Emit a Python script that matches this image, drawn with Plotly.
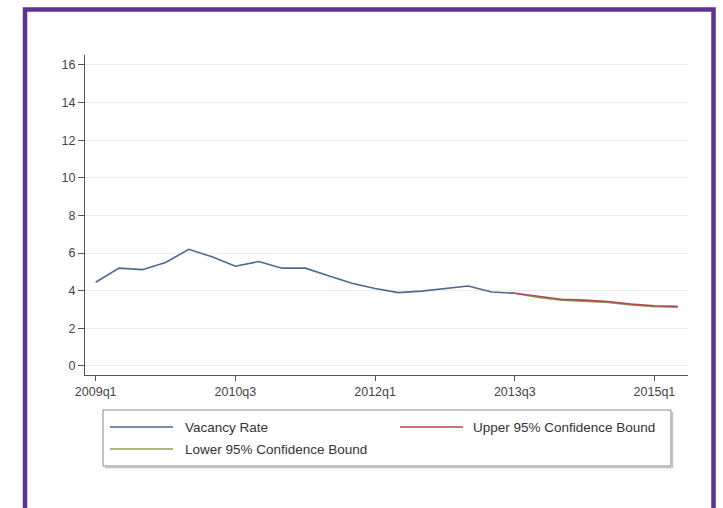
import plotly.graph_objects as go

# ---- data ----
quarters = ["2009q1", "2009q2", "2009q3", "2009q4",
            "2010q1", "2010q2", "2010q3", "2010q4",
            "2011q1", "2011q2", "2011q3", "2011q4",
            "2012q1", "2012q2", "2012q3", "2012q4",
            "2013q1", "2013q2", "2013q3", "2013q4",
            "2014q1", "2014q2", "2014q3", "2014q4",
            "2015q1", "2015q2"]
vacancy_rate = [4.45, 5.2, 5.12, 5.5, 6.2, 5.8, 5.3, 5.55, 5.2, 5.2,
                4.8, 4.4, 4.12, 3.9, 3.98, 4.1, 4.25, 3.93, 3.87]
forecast_quarters = quarters[18:26]
upper_bound = [3.87, 3.69, 3.55, 3.50, 3.43, 3.29, 3.20, 3.17]
lower_bound = [3.87, 3.64, 3.50, 3.45, 3.38, 3.24, 3.15, 3.12]
tick_quarters = ["2009q1", "2010q3", "2012q1", "2013q3", "2015q1"]
y_ticks = [0, 2, 4, 6, 8, 10, 12, 14, 16]
legend_labels = ["Vacancy Rate", "Upper 95% Confidence Bound", "Lower 95% Confidence Bound"]

C_BLUE = "#4a6a90"
C_UPPER = "#b24852"
C_LOWER = "#8f9e5a"
FONT = "Liberation Sans, Arial, sans-serif"

W, H = 723, 508
L, R, T, B = 85, 688, 55, 375


def px(x):
    return (x - L) / (R - L)


def py(y):
    return (B - y) / (B - T)


fig = go.Figure()
fig.add_trace(go.Scatter(x=quarters[:len(vacancy_rate)], y=vacancy_rate, mode="lines",
                         line=dict(color=C_BLUE, width=1.6), name=legend_labels[0]))
fig.add_trace(go.Scatter(x=forecast_quarters, y=lower_bound, mode="lines",
                         line=dict(color=C_LOWER, width=1.6), name=legend_labels[2]))
fig.add_trace(go.Scatter(x=forecast_quarters, y=upper_bound, mode="lines",
                         line=dict(color=C_UPPER, width=1.6), name=legend_labels[1]))

shapes = []
# purple frame (open at bottom)
shapes.append(dict(type="path", xref="paper", yref="paper",
                   path=f"M {px(25)},{py(530)} L {px(25)},{py(9.5)} L {px(713.5)},{py(9.5)} L {px(713.5)},{py(530)}",
                   line=dict(color="#5f3190", width=4.5)))
# legend box shadow + box
shapes.append(dict(type="line", xref="paper", yref="paper",
                   x0=px(105), x1=px(672.5), y0=py(467.5), y1=py(467.5),
                   line=dict(color="#c4c4c4", width=1.5)))
shapes.append(dict(type="line", xref="paper", yref="paper",
                   x0=px(672.5), x1=px(672.5), y0=py(412), y1=py(467.5),
                   line=dict(color="#c4c4c4", width=1.5)))
shapes.append(dict(type="rect", xref="paper", yref="paper",
                   x0=px(103), x1=px(671), y0=py(466), y1=py(410),
                   line=dict(color="#8a8a8a", width=1), fillcolor="rgba(0,0,0,0)"))
# legend samples
samples = [(110, 173, 427, C_BLUE), (400, 463, 427, C_UPPER), (110, 173, 449, C_LOWER)]
for x0, x1, yy, c in samples:
    shapes.append(dict(type="line", xref="paper", yref="paper",
                       x0=px(x0), x1=px(x1), y0=py(yy), y1=py(yy),
                       line=dict(color=c, width=1.6)))

annotations = []
label_pos = [(183, 427), (471, 427), (183, 449)]
for (xx, yy), txt in zip(label_pos, legend_labels):
    annotations.append(dict(text=txt, xref="paper", yref="paper", x=px(xx), y=py(yy),
                            xanchor="left", yanchor="middle", showarrow=False,
                            font=dict(family=FONT, size=13.5, color="#333333")))

fig.update_layout(
    width=W, height=H,
    margin=dict(l=L, r=W - R, t=T, b=H - B, pad=0),
    paper_bgcolor="white", plot_bgcolor="white",
    showlegend=False,
    shapes=shapes, annotations=annotations,
    font=dict(family=FONT, size=12.5, color="#444444"),
)
fig.update_xaxes(
    type="category", categoryorder="array", categoryarray=quarters,
    range=[-0.46, 25.44],
    tickmode="array", tickvals=tick_quarters, ticktext=tick_quarters,
    showgrid=False, zeroline=False,
    showline=True, linecolor="#555555", linewidth=1.2,
    ticks="outside", ticklen=5, tickcolor="#555555", tickwidth=1,
    tickfont=dict(family=FONT, size=12.5, color="#444444"),
)
fig.update_yaxes(
    range=[-0.48, 16.53],
    tickmode="array", tickvals=y_ticks,
    showgrid=True, gridcolor="#ececec", gridwidth=1, zeroline=False,
    showline=True, linecolor="#555555", linewidth=1.2,
    ticks="outside", ticklen=6, tickcolor="#555555", tickwidth=1,
    tickfont=dict(family=FONT, size=12.5, color="#444444"),
)

fig.write_html("out.html",
               config={"displayModeBar": False},
               post_script="document.body.style.margin='0';document.body.style.overflow='hidden';")
